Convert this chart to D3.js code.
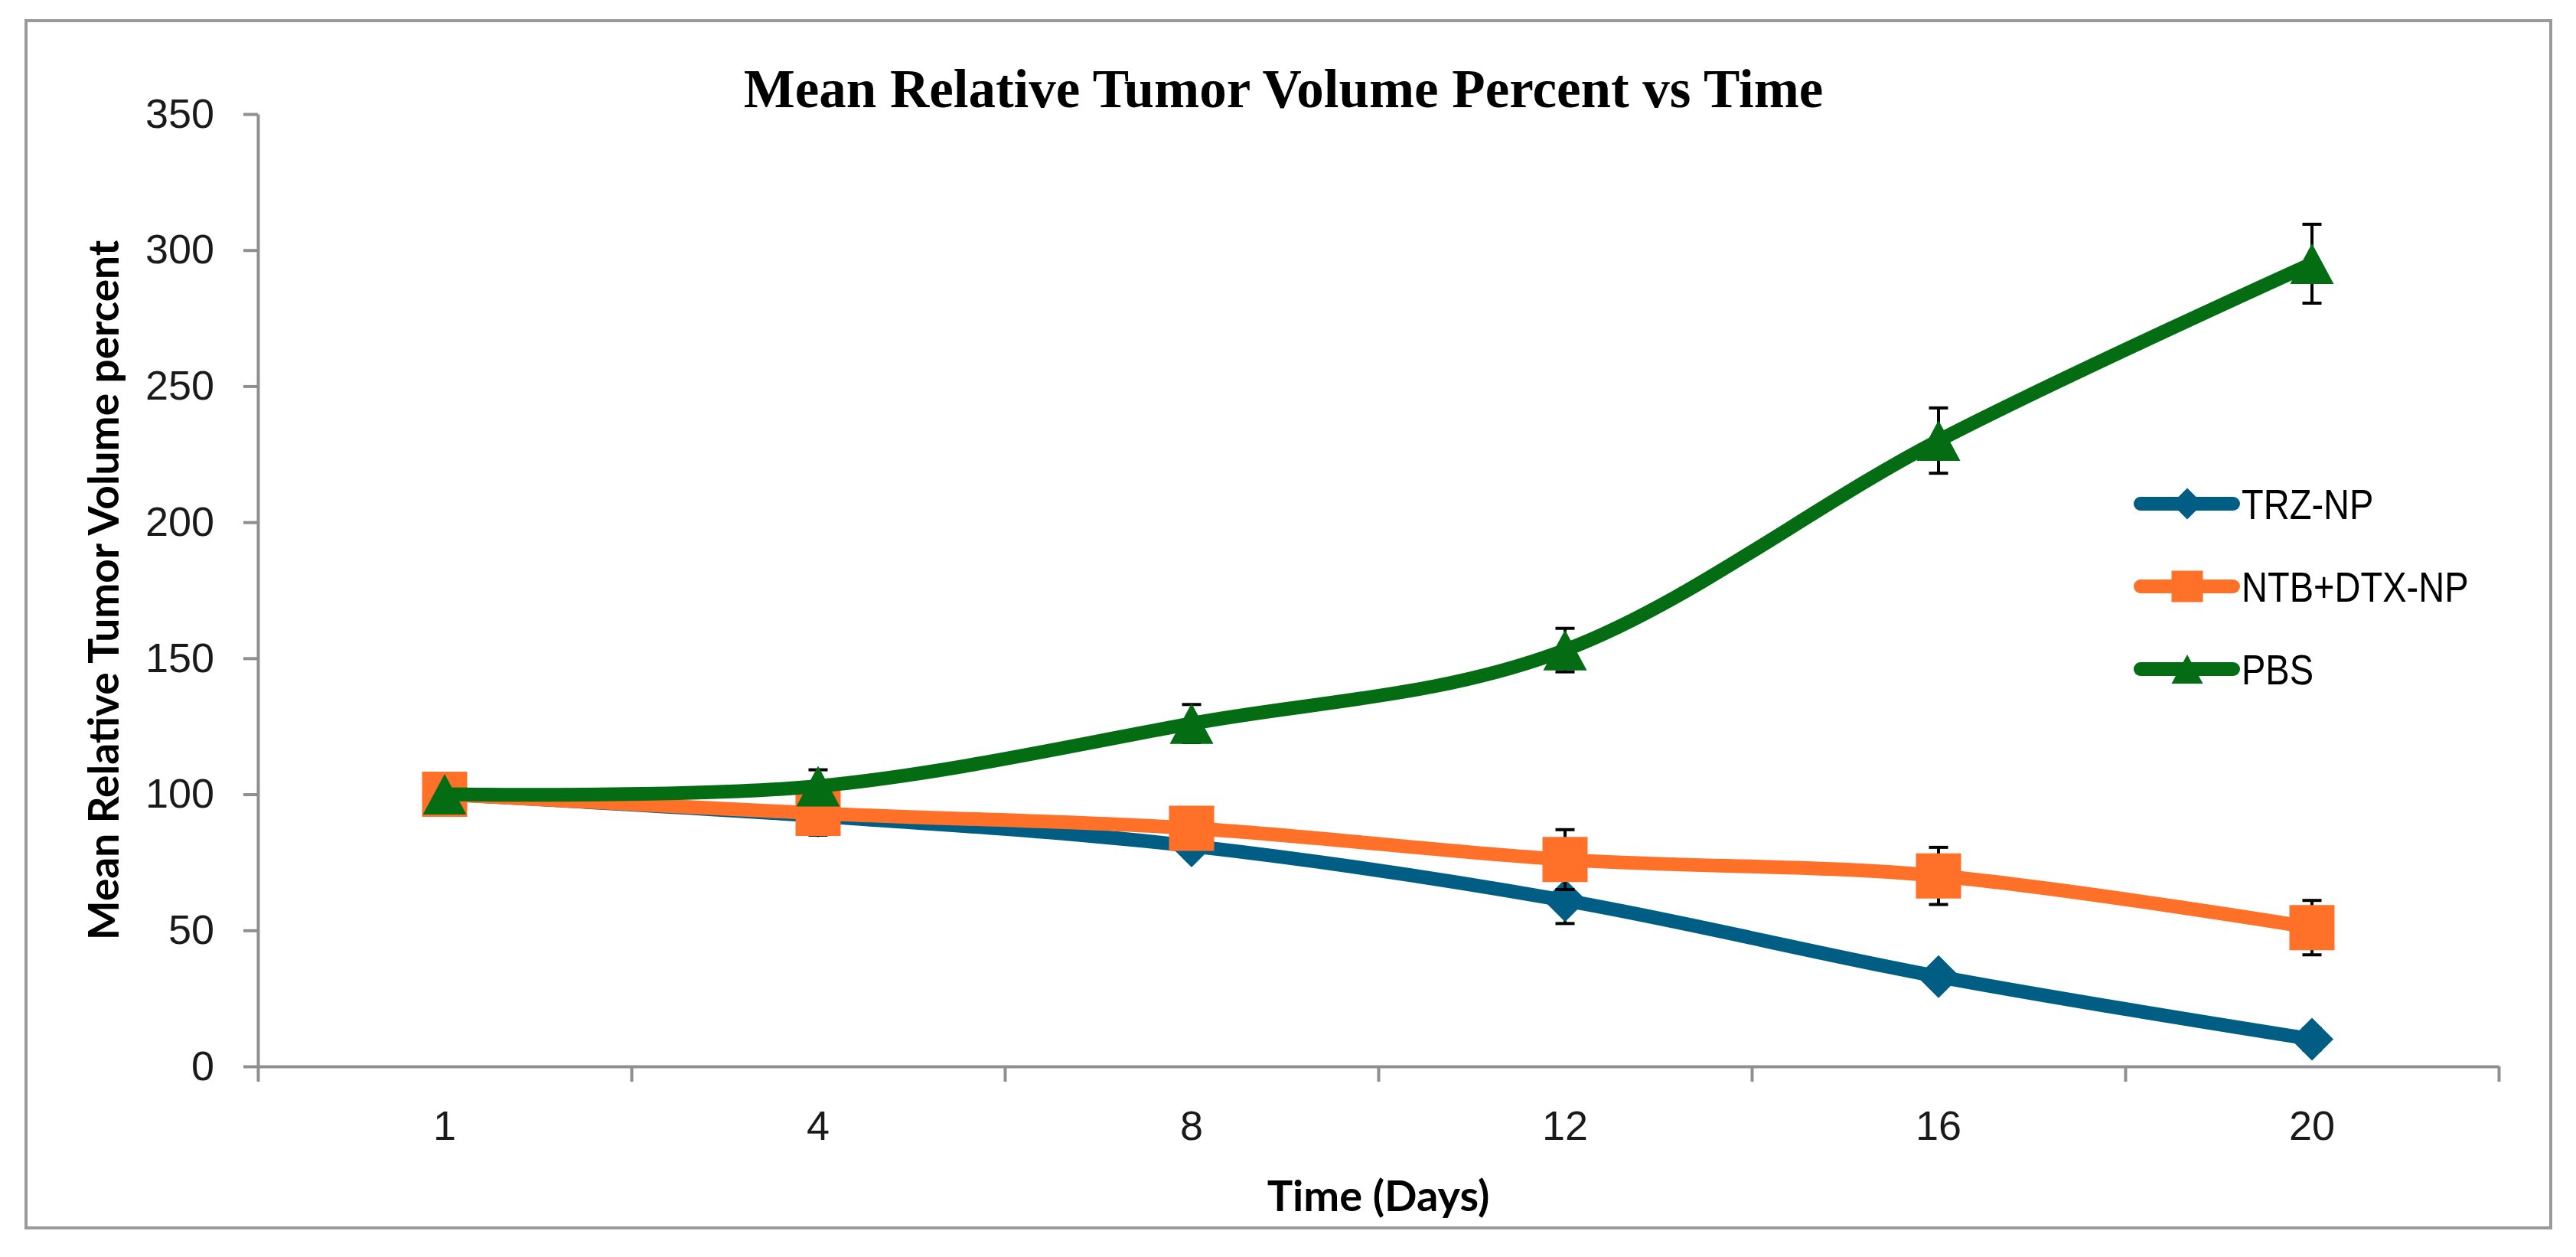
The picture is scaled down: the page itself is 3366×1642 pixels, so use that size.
<!DOCTYPE html>
<html>
<head>
<meta charset="utf-8">
<script src="https://cdn.jsdelivr.net/npm/d3@7"></script>
<style>
  body { margin: 0; background: #fff; }
  svg { display: block; }
</style>
</head>
<body>
<div id="chart"></div>
<script>
// data
var days = ["1", "4", "8", "12", "16", "20"];
var yTicks = [0, 50, 100, 150, 200, 250, 300, 350];

var trzNP = [100, 92, 81, 61, 33, 10];
var trzErr = [0, 3, 3, 8.5, 3, 4];
var ntbDtxNP = [100, 93, 87.5, 76, 70, 51];
var ntbErr = [0, 8, 3, 11, 10.5, 10];
var pbs = [100, 103, 126, 153, 230, 295];
var pbsErr = [0, 6, 7, 8, 12, 14.5];

var seriesNames = ["TRZ-NP", "NTB+DTX-NP", "PBS"];
var seriesColors = ["#005E85", "#FF7028", "#046C13"];
var seriesShapes = ["diamond", "square", "triangle"];

var w = 3366;
var h = 1642;
var plotLeft = 337, plotRight = 3265, plotTop = 149, plotBottom = 1393;
var axisColor = "#8f8f8f";

var svg = d3.select("#chart")
            .append("svg")
            .attr("width", w)
            .attr("height", h);

// outer frame
svg.append("rect")
   .attr("x", 34)
   .attr("y", 27)
   .attr("width", 3333 - 34)
   .attr("height", 1604 - 27)
   .attr("fill", "#fff")
   .attr("stroke", "#9a9a9a")
   .attr("stroke-width", 4);

var x = d3.scaleBand()
          .domain(days)
          .range([plotLeft, plotRight]);
var xEdge = d3.scaleLinear()
              .domain([0, days.length])
              .range([plotLeft, plotRight]);
var y = d3.scaleLinear()
          .domain([0, 350])
          .range([plotBottom, plotTop]);

function cx(i) { return x(days[i]) + x.bandwidth() / 2; }

// y axis
var yAxis = svg.append("g")
   .attr("transform", "translate(" + plotLeft + ",0)")
   .call(d3.axisLeft(y)
           .tickValues(yTicks)
           .tickSize(19)
           .tickSizeOuter(0)
           .tickPadding(38));
yAxis.selectAll("text")
     .attr("font-family", "'Liberation Sans', Arial, sans-serif")
     .attr("font-size", 54)
     .attr("fill", "#1a1a1a");

// x axis: ticks on category edges, labels at centres
var xTickAxis = svg.append("g")
   .attr("transform", "translate(0," + plotBottom + ")")
   .call(d3.axisBottom(xEdge)
           .tickValues(d3.range(days.length + 1))
           .tickFormat("")
           .tickSize(20)
           .tickSizeOuter(0));
var xLabelAxis = svg.append("g")
   .attr("transform", "translate(0," + plotBottom + ")")
   .call(d3.axisBottom(x)
           .tickSize(0)
           .tickPadding(58));
xLabelAxis.select(".domain").remove();
xLabelAxis.selectAll("text")
     .attr("font-family", "'Liberation Sans', Arial, sans-serif")
     .attr("font-size", 54)
     .attr("fill", "#1a1a1a");

svg.selectAll(".domain, .tick line")
   .attr("stroke", axisColor)
   .attr("stroke-width", 4);

// titles
svg.append("text")
   .attr("x", 1677)
   .attr("y", 140)
   .attr("text-anchor", "middle")
   .attr("font-family", "'Liberation Serif', 'Times New Roman', serif")
   .attr("font-weight", "bold")
   .attr("font-size", 71)
   .attr("fill", "#000")
   .text("Mean Relative Tumor Volume Percent vs Time");

svg.append("text")
   .attr("transform", "translate(155," + ((plotTop + plotBottom) / 2) + ") rotate(-90)")
   .attr("text-anchor", "middle")
   .attr("font-family", "Lato, 'Open Sans', sans-serif")
   .attr("font-weight", "bold")
   .attr("font-size", 55)
   .attr("fill", "#000")
   .text("Mean Relative Tumor Volume percent");

svg.append("text")
   .attr("x", (plotLeft + plotRight) / 2)
   .attr("y", 1582)
   .attr("text-anchor", "middle")
   .attr("font-family", "Lato, 'Open Sans', sans-serif")
   .attr("font-weight", "bold")
   .attr("font-size", 56)
   .attr("fill", "#000")
   .text("Time (Days)");

// marker shapes
function markerPath(shape, s) {
  var r = s / 2;
  if (shape == "diamond") {
    return "M0," + (-r) + "L" + r + ",0L0," + r + "L" + (-r) + ",0Z";
  }
  if (shape == "square") {
    return "M" + (-r) + "," + (-r) + "h" + s + "v" + s + "h" + (-s) + "Z";
  }
  var th = s * 0.93;
  return "M0," + (-th / 2) + "L" + r + "," + (th / 2) + "L" + (-r) + "," + (th / 2) + "Z";
}

var allSeries = [
  { name: seriesNames[0], values: trzNP, err: trzErr, color: seriesColors[0], shape: seriesShapes[0], size: 56 },
  { name: seriesNames[1], values: ntbDtxNP, err: ntbErr, color: seriesColors[1], shape: seriesShapes[1], size: 59 },
  { name: seriesNames[2], values: pbs, err: pbsErr, color: seriesColors[2], shape: seriesShapes[2], size: 57 }
];

var line = d3.line()
    .x(function(d, i) { return cx(i); })
    .y(function(d) { return y(d); })
    .curve(d3.curveCardinal.tension(0));

var capW = 25;

allSeries.forEach(function(s) {
  var g = svg.append("g");

  // error bars
  var eb = g.selectAll(".err")
    .data(s.values.map(function(v, i) { return { v: v, e: s.err[i], i: i }; })
                  .filter(function(d) { return d.e > 0; }))
    .enter()
    .append("g")
    .attr("stroke", "#000")
    .attr("stroke-width", 4);
  eb.append("line")
    .attr("x1", function(d) { return cx(d.i); })
    .attr("x2", function(d) { return cx(d.i); })
    .attr("y1", function(d) { return y(d.v + d.e); })
    .attr("y2", function(d) { return y(d.v - d.e); });
  eb.append("line")
    .attr("x1", function(d) { return cx(d.i) - capW / 2; })
    .attr("x2", function(d) { return cx(d.i) + capW / 2; })
    .attr("y1", function(d) { return y(d.v + d.e); })
    .attr("y2", function(d) { return y(d.v + d.e); });
  eb.append("line")
    .attr("x1", function(d) { return cx(d.i) - capW / 2; })
    .attr("x2", function(d) { return cx(d.i) + capW / 2; })
    .attr("y1", function(d) { return y(d.v - d.e); })
    .attr("y2", function(d) { return y(d.v - d.e); });

  g.append("path")
   .datum(s.values)
   .attr("d", line)
   .attr("fill", "none")
   .attr("stroke", s.color)
   .attr("stroke-width", 18)
   .attr("stroke-linecap", "round")
   .attr("stroke-linejoin", "round");

  g.selectAll(".mark")
   .data(s.values)
   .enter()
   .append("path")
   .attr("transform", function(d, i) {
     return "translate(" + cx(i) + "," + y(d) + ")";
   })
   .attr("d", markerPath(s.shape, s.size))
   .attr("fill", s.color);
});

// legend
var legendY = [658, 766, 874];
var legend = svg.selectAll(".legend")
    .data(allSeries)
    .enter()
    .append("g")
    .attr("transform", function(d, i) {
      return "translate(2793," + legendY[i] + ")";
    });
legend.append("line")
    .attr("x1", 4)
    .attr("x2", 125)
    .attr("stroke", function(d) { return d.color; })
    .attr("stroke-width", 18)
    .attr("stroke-linecap", "round");
legend.append("path")
    .attr("transform", "translate(65,0)")
    .attr("d", function(d) { return markerPath(d.shape, 41); })
    .attr("fill", function(d) { return d.color; });
// no narrow face installed, so squeeze the regular one
legend.append("text")
    .attr("transform", "translate(136,0) scale(0.84,1)")
    .attr("dy", "0.36em")
    .attr("font-family", "'Liberation Sans', Arial, sans-serif")
    .attr("font-size", 56)
    .attr("fill", "#000")
    .text(function(d) { return d.name; });
</script>
</body>
</html>
